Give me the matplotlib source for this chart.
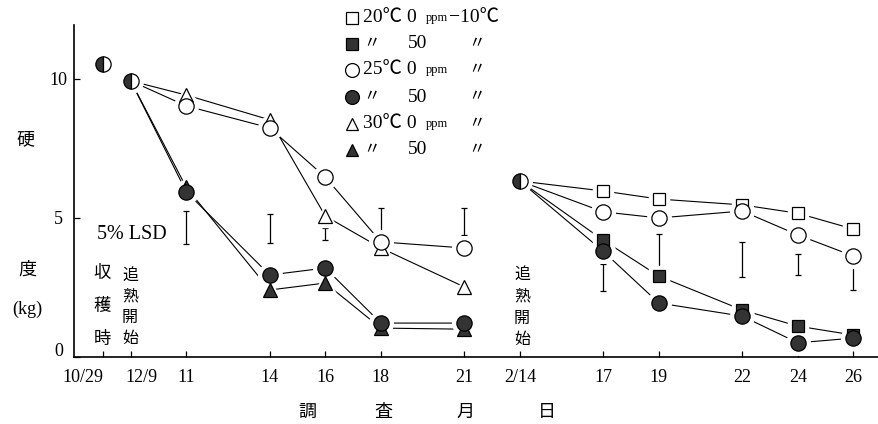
import matplotlib
matplotlib.use('Agg')
import matplotlib.pyplot as plt
from matplotlib.transforms import ScaledTranslation

plt.rcParams['font.family'] = ['Liberation Serif', 'Noto Sans CJK JP']

W, H = 879, 424

# survey dates and their place on the (compressed) day axis
date_labels = ['10/29', '12/9', '11', '14', '16', '18', '21',
               '2/14', '17', '19', '22', '24', '26']
date_pos = [0, 1, 3, 6, 8, 10, 13, 15, 18, 20, 23, 25, 27]

# half-filled points: harvest, start of ripening (12/9), start of ripening (2/14)
start_x = [0, 1, 15]
start_y = [10.54, 9.93, 6.33]

# first run, 12/9 -> 21
x1 = [1, 3, 6, 8, 10, 13]
t25_0 = [9.93, 9.03, 8.24, 6.47, 4.14, 3.92]
t25_50 = [9.93, 5.94, 2.95, 3.20, 1.22, 1.22]
t30_0 = [9.93, 9.42, 8.53, 5.07, 3.92, 2.52]
t30_50 = [9.93, 6.10, 2.41, 2.66, 1.04, 1.00]

# second run, 2/14 -> 26
x2 = [15, 18, 20, 23, 25, 27]
r20_0 = [6.33, 5.97, 5.68, 5.47, 5.17, 4.60]
r20_50 = [6.33, 4.20, 2.91, 1.69, 1.11, 0.79]
r25_0 = [6.33, 5.22, 5.00, 5.25, 4.39, 3.63]
r25_50 = [6.33, 3.80, 1.94, 1.47, 0.51, 0.68]

# 5% LSD bars
lsd_x = [3, 6, 8, 10, 13, 18, 20, 23, 25, 27]
lsd_lo = [4.06, 4.10, 4.21, 4.46, 4.39, 2.37, 3.06, 2.88, 2.95, 2.41]
lsd_hi = [5.25, 5.14, 4.64, 5.36, 5.36, 3.35, 4.42, 4.14, 3.70, 3.27]

# legend rows
leg_markers = ['s', 's', 'o', 'o', '^', '^']
leg_filled = [False, True, False, True, False, True]
leg_temps = ['20℃', '', '25℃', '', '30℃', '']

DARK = '#333333'

fig = plt.figure(figsize=(W / 100, H / 100), dpi=100)
ax = fig.add_axes([74 / W, 1 - 357 / H, 805 / W, 332 / H])
ax.set_xlim(-1.04, 27.92)
ax.set_ylim(0, 11.94)


def series(x, y, marker, filled, ms, z):
    ax.plot(x, y, color='black', lw=0.8, zorder=2)
    # white halo under the marker so the line stops short of it
    ax.plot(x[1:], y[1:], ls='none', marker=marker, ms=ms + 6, mec='white',
            mfc='white', zorder=2.5, clip_on=False)
    ax.plot(x[1:], y[1:], ls='none', marker=marker, ms=ms, mec='black', mew=0.9,
            mfc=DARK if filled else 'white', zorder=z, clip_on=False)


series(x1, t30_0, '^', False, 10, 3)
series(x1, t30_50, '^', True, 10, 3)
series(x1, t25_0, 'o', False, 11, 5)
series(x1, t25_50, 'o', True, 11, 5)
series(x2, r20_0, 's', False, 9, 4)
series(x2, r20_50, 's', True, 9, 4)
series(x2, r25_0, 'o', False, 11, 5)
series(x2, r25_50, 'o', True, 11, 5)

ax.plot(start_x, start_y, ls='none', marker='o', ms=17, mec='white', mfc='white', zorder=2.5)
ax.plot(start_x, start_y, ls='none', marker='o', ms=11, fillstyle='left', mfc=DARK,
        markerfacecoloralt='white', mec='black', mew=0.9, zorder=6)

mid = [(a + b) / 2 for a, b in zip(lsd_lo, lsd_hi)]
half = [(b - a) / 2 for a, b in zip(lsd_lo, lsd_hi)]
ax.errorbar(lsd_x, mid, yerr=half, fmt='none', ecolor='black', elinewidth=0.9,
            capsize=2, capthick=0.9, zorder=2)

for s in ['top', 'right']:
    ax.spines[s].set_visible(False)
for s in ['left', 'bottom']:
    ax.spines[s].set_linewidth(1.2)

ax.set_xticks(date_pos, date_labels)
ax.tick_params(axis='x', direction='in', length=4, width=0.9, pad=9, labelsize=13)
ax.set_yticks([0, 5, 10])
ax.tick_params(axis='y', direction='in', length=4, width=0.9, pad=11, labelsize=13)
for lab in ax.get_yticklabels():
    lab.set_ha('center')
ylabs = ax.get_yticklabels()
ylabs[0].set_transform(ylabs[0].get_transform() + ScaledTranslation(0, 0.08, fig.dpi_scale_trans))
xlabs = ax.get_xticklabels()
xlabs[0].set_ha('right')
xlabs[1].set_transform(xlabs[1].get_transform() + ScaledTranslation(0.11, 0, fig.dpi_scale_trans))


def ftext(x, y, s, size=13, **kw):
    fig.text(x / W, 1 - y / H, s, fontsize=size, ha=kw.pop('ha', 'center'),
             va=kw.pop('va', 'center'), **kw)


# axis titles
ftext(25, 140, '硬')
ftext(27, 270, '度')
ftext(27, 309, '(kg)')
for ch, xx in zip('調査月日', [307, 383, 465, 547]):
    ftext(xx, 412, ch)

# annotations
ftext(132, 234, '5% LSD', size=14.5)
for ch, yy in zip('収穫時', [274, 307, 340]):
    ftext(102, yy, ch, size=12.5)
for ch, yy in zip('追熟開始', [276, 297, 318, 339]):
    ftext(130, yy, ch, size=11.5)
for ch, yy in zip('追熟開始', [275, 297, 319, 340]):
    ftext(522, yy, ch, size=11.5)

# legend
leg_rows = [18, 44, 70, 97, 124, 150]
for i, yy in enumerate(leg_rows):
    ax.plot([352 / W], [1 - yy / H], transform=fig.transFigure, ls='none',
            marker=leg_markers[i], ms=9 if leg_markers[i] != 'o' else 10,
            mec='black', mew=0.9, mfc=DARK if leg_filled[i] else 'white', clip_on=False)
    if leg_temps[i]:
        ftext(363, yy, leg_temps[i] + ' 0', size=14, ha='left')
        ftext(426, yy, 'ppm', size=9, ha='left')
        if i == 0:
            ftext(449, yy, '−10℃', size=14, ha='left')
        else:
            ftext(477, yy, '〃', size=12)
    else:
        ftext(372, yy, '〃', size=12)
        ftext(418, yy, '50', size=14)
        ftext(477, yy, '〃', size=12)

fig.savefig('out.png', dpi=100)
